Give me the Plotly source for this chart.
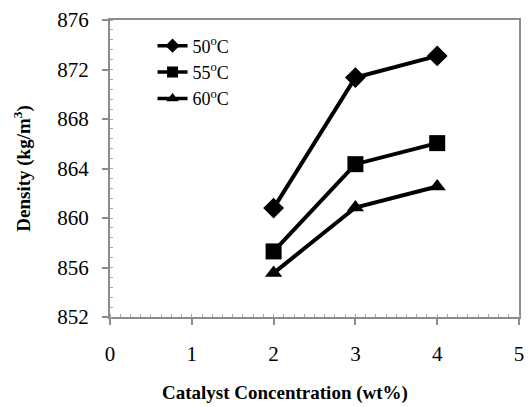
import plotly.graph_objects as go

conc = [2, 3, 4]
d50 = [860.8, 871.35, 873.1]
d55 = [857.3, 864.35, 866.05]
d60 = [855.55, 860.85, 862.55]
names = ["50<sup>o</sup>C", "55<sup>o</sup>C", "60<sup>o</sup>C"]
symbols = ["diamond", "square", "triangle-up"]
x_ticks = [0, 1, 2, 3, 4, 5]
y_ticks = [852, 856, 860, 864, 868, 872, 876]

FONT = "Liberation Serif"
plot_sizes = {"diamond": 16, "square": 16, "triangle-up": 15}
legend_sizes = {"diamond": 11, "square": 11, "triangle-up": 11}

fig = go.Figure()
for ys, nm, sym in zip([d50, d55, d60], names, symbols):
    fig.add_trace(go.Scatter(
        x=conc, y=ys, name=nm, mode="lines+markers", showlegend=False,
        line=dict(color="black", width=4),
        marker=dict(symbol=sym, size=plot_sizes[sym], color="black"),
    ))
for nm, sym in zip(names, symbols):
    fig.add_trace(go.Scatter(
        x=[None], y=[None], name=nm, mode="lines+markers",
        line=dict(color="black", width=3.5),
        marker=dict(symbol=sym, size=legend_sizes[sym], color="black"),
    ))

common = dict(
    showgrid=False, zeroline=False, showline=True, linecolor="#8c8c8c", linewidth=2,
    mirror=True, ticks="outside", ticklen=6, tickcolor="#8c8c8c", tickwidth=2,
    tickfont=dict(family=FONT, size=21, color="black"),
)
fig.update_xaxes(
    range=[0, 5], tickvals=x_ticks, ticklabelstandoff=11,
    minor=dict(ticks="inside", ticklen=3, tickcolor="#a8a8a8", dtick=0.125, tickwidth=1),
    **common,
)
fig.update_yaxes(
    range=[852, 876], tickvals=y_ticks, ticklabelstandoff=9,
    title=dict(text="<b>Density (kg/m<sup>3</sup>)</b>",
               font=dict(family=FONT, size=19, color="black"), standoff=22),
    minor=dict(ticks="inside", ticklen=3, tickcolor="#a8a8a8", dtick=0.8, tickwidth=1),
    **common,
)
fig.add_annotation(
    text="<b>Catalyst Concentration (wt%)</b>", xref="paper", yref="paper",
    x=(287 - 110) / 414, y=-(393 - 317) / 297, xanchor="center", yanchor="middle",
    showarrow=False, font=dict(family=FONT, size=19, color="black"),
)
fig.update_layout(
    width=528, height=407,
    font=dict(family=FONT, size=18, color="black"),
    margin=dict(l=110, r=4, t=20, b=90),
    paper_bgcolor="white", plot_bgcolor="white",
    legend=dict(x=0.104, y=0.975, xanchor="left", yanchor="top",
                bgcolor="rgba(0,0,0,0)", tracegroupgap=0,
                font=dict(family=FONT, size=18, color="black")),
)
fig.write_html("out.html")
